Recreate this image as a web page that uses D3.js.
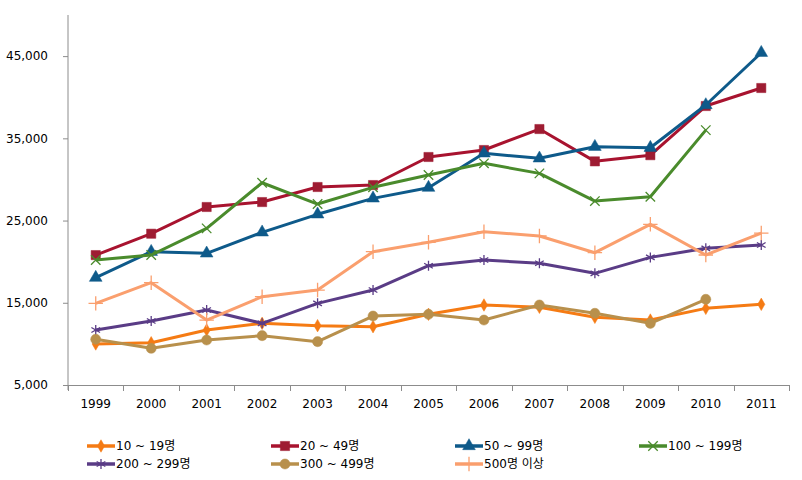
<!DOCTYPE html>
<html><head><meta charset="utf-8">
<script src="https://cdn.jsdelivr.net/npm/d3@7"></script>
<style>
body{margin:0;background:#fff;}
text{font-family:"DejaVu Sans","Noto Sans CJK KR",sans-serif;fill:#000;}
</style></head>
<body><svg id="c" width="802" height="480"></svg>
<script>
const years = ["1999","2000","2001","2002","2003","2004","2005","2006","2007","2008","2009","2010","2011"];
const yTicks = [5000,15000,25000,35000,45000];
const s10_19   = [9990,10140,11690,12500,12220,12090,13600,14730,14450,13230,12900,14320,14810];
const s20_49   = [20800,23400,26650,27250,29080,29320,32730,33580,36130,32200,32950,38930,41120];
const s50_99   = [18050,21210,21010,23570,25760,27700,29000,33180,32570,33980,33860,39050,45410];
const s100_199 = [20200,20810,24050,29600,27010,29040,30540,31960,30740,27370,27900,36000,null];
const s200_299 = [11690,12780,14120,12500,14930,16550,19510,20200,19800,18580,20520,21620,22020];
const s300_499 = [10560,9460,10470,11000,10270,13390,13600,12900,14730,13720,12500,15420,null];
const s500     = [14930,17440,12900,15740,16550,21210,22350,23650,23120,21090,24540,20810,23480];
const names = ["10 ~ 19명","20 ~ 49명","50 ~ 99명","100 ~ 199명","200 ~ 299명","300 ~ 499명","500명 이상"];

const series = [
 {name:names[0], values:s10_19,   color:"#F57B14", sym:d3.symbolDiamond, size:45, fill:true},
 {name:names[1], values:s20_49,   color:"#A8132F", mcolor:"#9E1C32", sym:d3.symbolSquare, size:85, fill:true},
 {name:names[2], values:s50_99,   color:"#0E5A8A", sym:d3.symbolTriangle, size:70, fill:true},
 {name:names[3], values:s100_199, color:"#4A8B2C", sym:d3.symbolTimes, size:60, fill:false},
 {name:names[4], values:s200_299, color:"#5A3C86", sym:d3.symbolAsterisk, size:70, fill:false},
 {name:names[5], values:s300_499, color:"#B8904C", sym:d3.symbolCircle, size:80, fill:true},
 {name:names[6], values:s500,     color:"#FA9F6E", sym:d3.symbolPlus, size:70, fill:false}
];

const svg = d3.select("#c");
const L=68, R=789, T=15, B=385;
const x = d3.scaleBand().domain(years).range([L,R]).padding(0);
const y = d3.scaleLinear().domain([5000,50000]).range([B,T]);
const axisColor="#8c8c8c";

// y axis
const ya = svg.append("g").attr("transform",`translate(${L},0)`)
  .call(d3.axisLeft(y).tickValues(yTicks).tickSize(5).tickPadding(15).tickFormat(d3.format(",")));
ya.select(".domain").attr("stroke",axisColor).attr("d",`M0,${T}V${B+5}`);
ya.selectAll(".tick line").attr("stroke",axisColor);
ya.selectAll(".tick text").style("font-size","12px").attr("fill","#000");

// x axis
const xa = svg.append("g").attr("transform",`translate(0,${B})`)
  .call(d3.axisBottom(x).tickSize(0).tickPadding(14));
xa.select(".domain").attr("stroke",axisColor).attr("d",`M${L},0.5H${R}`);
xa.selectAll(".tick text").style("font-size","12px").attr("fill","#000");
const bounds = years.map((d)=>x(d)+x.bandwidth()).concat([L]);
xa.selectAll("line.bt").data(bounds).enter().append("line").attr("class","bt")
  .attr("x1",d=>Math.round(d)+0.5).attr("x2",d=>Math.round(d)+0.5).attr("y1",0).attr("y2",6).attr("stroke",axisColor);

const cx = d=>x(d)+x.bandwidth()/2;
const line = d3.line().defined(d=>d.v!=null).x(d=>cx(d.year)).y(d=>y(d.v));

series.forEach(s=>{
  const pts = years.map((yr,i)=>({year:yr,v:s.values[i]}));
  const g = svg.append("g");
  g.append("path").datum(pts).attr("d",line).attr("fill","none")
    .attr("stroke",s.color).attr("stroke-width",3).attr("stroke-linejoin","round");
  const sym = d3.symbol().type(s.sym).size(s.size);
  g.selectAll("path.m").data(pts.filter(d=>d.v!=null)).enter().append("path").attr("class","m")
    .attr("d",sym).attr("transform",d=>`translate(${cx(d.year)},${y(d.v)})`)
    .attr("fill",s.fill?(s.mcolor||s.color):"none")
    .attr("stroke",s.mcolor||s.color).attr("stroke-width",s.fill?0.5:1.3);
});

// legend
const legX=[87,271,455,639], legY=[446,464];
series.forEach((s,i)=>{
  const col=i%4, row=Math.floor(i/4);
  const g=svg.append("g").attr("transform",`translate(${legX[col]},${legY[row]})`);
  g.append("line").attr("x1",0).attr("x2",28).attr("y1",0).attr("y2",0)
    .attr("stroke",s.color).attr("stroke-width",3.5);
  g.append("path").attr("d",d3.symbol().type(s.sym).size(s.size)()).attr("transform","translate(14,0)")
    .attr("fill",s.fill?(s.mcolor||s.color):"none").attr("stroke",s.mcolor||s.color).attr("stroke-width",s.fill?0.5:1.3);
  g.append("text").attr("x",29).attr("y",0).attr("dy","0.36em").style("font-size","12px").text(s.name);
});
</script></body></html>
